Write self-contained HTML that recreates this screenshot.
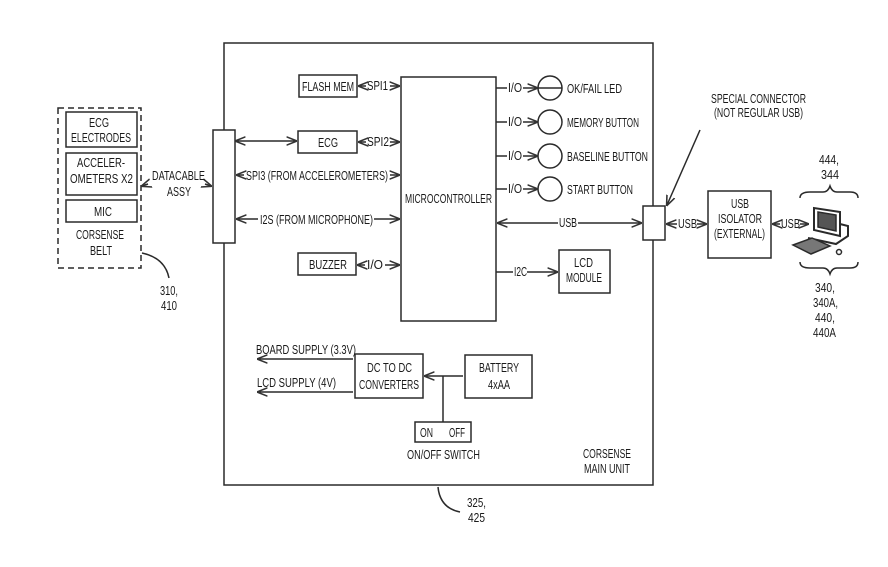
<!DOCTYPE html>
<html><head><meta charset="utf-8"><style>
html,body{margin:0;padding:0;background:#fff}
svg{display:block}
text{font-family:"Liberation Sans",sans-serif;font-size:12.5px;fill:#1a1a1a}
</style></head><body>
<svg width="888" height="567" viewBox="0 0 888 567" xmlns="http://www.w3.org/2000/svg">
<defs>
<marker id="a" viewBox="0 0 10 10" refX="9" refY="5" markerWidth="7" markerHeight="7" orient="auto-start-reverse"><path d="M0,1 L10,5 L0,9" fill="none" stroke="#333" stroke-width="1.5"/></marker>
</defs>
<g stroke="#2a2a2a" stroke-width="1.5" fill="none">
<rect x="224" y="43" width="429" height="442"/>
<rect x="58" y="108" width="83" height="160" stroke-dasharray="6,4"/>
<rect x="66" y="112" width="71" height="35"/>
<rect x="66" y="153" width="71" height="42"/>
<rect x="66" y="200" width="71" height="22"/>
<path d="M142 253 Q165 258 169 278"/>
<rect x="213" y="130" width="22" height="113" fill="#fff"/>
<rect x="299" y="75" width="58" height="22"/>
<rect x="298" y="131" width="59" height="22"/>
<rect x="298" y="253" width="58" height="22"/>
<rect x="401" y="77" width="95" height="244"/>
<rect x="559" y="250" width="51" height="43"/>
<circle cx="550" cy="88" r="12"/><line x1="538" y1="88" x2="562" y2="88"/>
<circle cx="550" cy="122" r="12"/>
<circle cx="550" cy="156" r="12"/>
<circle cx="550" cy="189" r="12"/>
<rect x="643" y="206" width="22" height="34" fill="#fff"/>
<rect x="708" y="191" width="63" height="67"/>
<rect x="355" y="354" width="68" height="44"/>
<rect x="465" y="355" width="67" height="43"/>
<rect x="415" y="422" width="56" height="20"/>
<line x1="236" y1="141" x2="296" y2="141" marker-start="url(#a)" marker-end="url(#a)"/>
<line x1="359" y1="86" x2="366" y2="86" marker-start="url(#a)"/><line x1="390" y1="86" x2="399" y2="86" marker-end="url(#a)"/>
<line x1="359" y1="142" x2="366" y2="142" marker-start="url(#a)"/><line x1="390" y1="142" x2="399" y2="142" marker-end="url(#a)"/>
<line x1="237" y1="175" x2="244" y2="175" marker-start="url(#a)"/><line x1="390" y1="175" x2="399" y2="175" marker-end="url(#a)"/>
<line x1="237" y1="219" x2="258" y2="219" marker-start="url(#a)"/><line x1="374" y1="219" x2="399" y2="219" marker-end="url(#a)"/>
<line x1="358" y1="265" x2="365" y2="265" marker-start="url(#a)"/><line x1="385" y1="265" x2="399" y2="265" marker-end="url(#a)"/>
<line x1="142" y1="186" x2="148" y2="184" marker-start="url(#a)"/><line x1="205" y1="184" x2="211" y2="186" marker-end="url(#a)"/>
<line x1="496" y1="88" x2="507" y2="88"/><line x1="523" y1="88" x2="537" y2="88" marker-end="url(#a)"/>
<line x1="496" y1="122" x2="507" y2="122"/><line x1="523" y1="122" x2="537" y2="122" marker-end="url(#a)"/>
<line x1="496" y1="156" x2="507" y2="156"/><line x1="523" y1="156" x2="537" y2="156" marker-end="url(#a)"/>
<line x1="496" y1="189" x2="507" y2="189"/><line x1="523" y1="189" x2="537" y2="189" marker-end="url(#a)"/>
<line x1="498" y1="223" x2="558" y2="223" marker-start="url(#a)"/><line x1="578" y1="223" x2="641" y2="223" marker-end="url(#a)"/>
<line x1="496" y1="272" x2="513" y2="272"/><line x1="527" y1="272" x2="557" y2="272" marker-end="url(#a)"/>
<line x1="667" y1="224" x2="677" y2="224" marker-start="url(#a)"/><line x1="697" y1="224" x2="706" y2="224" marker-end="url(#a)"/>
<line x1="773" y1="224" x2="780" y2="224" marker-start="url(#a)"/><line x1="800" y1="224" x2="808" y2="224" marker-end="url(#a)"/>
<line x1="700" y1="130" x2="667" y2="205" marker-end="url(#a)"/>
<line x1="353" y1="359" x2="258" y2="359" marker-end="url(#a)"/>
<line x1="353" y1="392" x2="258" y2="392" marker-end="url(#a)"/>
<line x1="463" y1="376" x2="425" y2="376" marker-end="url(#a)"/>
<line x1="443" y1="376" x2="443" y2="422"/>
<path d="M438 487 Q440 508 460 512"/>
<path d="M800 198 Q800 192 810 192 L823 192 Q828 192 830 186 Q832 192 837 192 L850 192 Q858 192 858 198"/>
<path d="M800 262 Q800 268 810 268 L823 268 Q828 268 830 274 Q832 268 837 268 L850 268 Q858 268 858 262"/>
<path d="M814 208 L814 230 L840 236 L840 212 Z" fill="#fff" stroke-width="2"/>
<path d="M818 212 L818 227 L836 231 L836 215 Z" fill="#555"/>
<path d="M808 238 L836 244 L848 236 L848 226 L840 224" stroke-width="2"/>
<path d="M793 245 L812 238 L830 246 L811 254 Z" fill="#777"/>
<circle cx="839" cy="252" r="2.5"/>
</g>
<g>
<text x="302" y="91" textLength="52" lengthAdjust="spacingAndGlyphs">FLASH MEM</text>
<text x="367" y="90" textLength="21" lengthAdjust="spacingAndGlyphs" font-size="11">SPI1</text>
<text x="318" y="147" textLength="20" lengthAdjust="spacingAndGlyphs">ECG</text>
<text x="367" y="146" textLength="22" lengthAdjust="spacingAndGlyphs" font-size="11">SPI2</text>
<text x="246" y="180" textLength="142" lengthAdjust="spacingAndGlyphs">SPI3 (FROM ACCELEROMETERS)</text>
<text x="260" y="224" textLength="113" lengthAdjust="spacingAndGlyphs">I2S (FROM MICROPHONE)</text>
<text x="309" y="269" textLength="38" lengthAdjust="spacingAndGlyphs">BUZZER</text>
<text x="367" y="269" textLength="16" lengthAdjust="spacingAndGlyphs" font-size="11">I/O</text>
<text x="405" y="203" textLength="87" lengthAdjust="spacingAndGlyphs">MICROCONTROLLER</text>
<text x="508" y="92" textLength="14" lengthAdjust="spacingAndGlyphs" font-size="11">I/O</text>
<text x="508" y="126" textLength="14" lengthAdjust="spacingAndGlyphs" font-size="11">I/O</text>
<text x="508" y="160" textLength="14" lengthAdjust="spacingAndGlyphs" font-size="11">I/O</text>
<text x="508" y="193" textLength="14" lengthAdjust="spacingAndGlyphs" font-size="11">I/O</text>
<text x="567" y="93" textLength="55" lengthAdjust="spacingAndGlyphs">OK/FAIL LED</text>
<text x="567" y="127" textLength="72" lengthAdjust="spacingAndGlyphs">MEMORY BUTTON</text>
<text x="567" y="161" textLength="81" lengthAdjust="spacingAndGlyphs">BASELINE BUTTON</text>
<text x="567" y="194" textLength="66" lengthAdjust="spacingAndGlyphs">START BUTTON</text>
<text x="559" y="227" textLength="18" lengthAdjust="spacingAndGlyphs" font-size="11">USB</text>
<text x="514" y="276" textLength="13" lengthAdjust="spacingAndGlyphs" font-size="11">I2C</text>
<text x="574" y="267" textLength="19" lengthAdjust="spacingAndGlyphs">LCD</text>
<text x="566" y="282" textLength="36" lengthAdjust="spacingAndGlyphs">MODULE</text>
<text x="711" y="103" textLength="95" lengthAdjust="spacingAndGlyphs">SPECIAL CONNECTOR</text>
<text x="714" y="117" textLength="89" lengthAdjust="spacingAndGlyphs">(NOT REGULAR USB)</text>
<text x="678" y="228" textLength="19" lengthAdjust="spacingAndGlyphs" font-size="11">USB</text>
<text x="731" y="208" textLength="18" lengthAdjust="spacingAndGlyphs">USB</text>
<text x="718" y="223" textLength="44" lengthAdjust="spacingAndGlyphs">ISOLATOR</text>
<text x="714" y="238" textLength="51" lengthAdjust="spacingAndGlyphs">(EXTERNAL)</text>
<text x="781" y="228" textLength="19" lengthAdjust="spacingAndGlyphs" font-size="11">USB</text>
<text x="819" y="164" textLength="20" lengthAdjust="spacingAndGlyphs">444,</text>
<text x="821" y="179" textLength="18" lengthAdjust="spacingAndGlyphs">344</text>
<text x="815" y="292" textLength="20" lengthAdjust="spacingAndGlyphs">340,</text>
<text x="813" y="307" textLength="25" lengthAdjust="spacingAndGlyphs">340A,</text>
<text x="815" y="322" textLength="20" lengthAdjust="spacingAndGlyphs">440,</text>
<text x="813" y="337" textLength="23" lengthAdjust="spacingAndGlyphs">440A</text>
<text x="89" y="127" textLength="20" lengthAdjust="spacingAndGlyphs">ECG</text>
<text x="71" y="142" textLength="60" lengthAdjust="spacingAndGlyphs">ELECTRODES</text>
<text x="77" y="167" textLength="48" lengthAdjust="spacingAndGlyphs">ACCELER-</text>
<text x="70" y="183" textLength="63" lengthAdjust="spacingAndGlyphs">OMETERS X2</text>
<text x="94" y="216" textLength="18" lengthAdjust="spacingAndGlyphs">MIC</text>
<text x="76" y="239" textLength="48" lengthAdjust="spacingAndGlyphs">CORSENSE</text>
<text x="90" y="255" textLength="22" lengthAdjust="spacingAndGlyphs">BELT</text>
<text x="152" y="180" textLength="53" lengthAdjust="spacingAndGlyphs">DATACABLE</text>
<text x="167" y="196" textLength="24" lengthAdjust="spacingAndGlyphs">ASSY</text>
<text x="160" y="295" textLength="18" lengthAdjust="spacingAndGlyphs">310,</text>
<text x="161" y="310" textLength="16" lengthAdjust="spacingAndGlyphs">410</text>
<text x="256" y="354" textLength="100" lengthAdjust="spacingAndGlyphs">BOARD SUPPLY (3.3V)</text>
<text x="257" y="387" textLength="79" lengthAdjust="spacingAndGlyphs">LCD SUPPLY (4V)</text>
<text x="367" y="372" textLength="45" lengthAdjust="spacingAndGlyphs">DC TO DC</text>
<text x="359" y="389" textLength="60" lengthAdjust="spacingAndGlyphs">CONVERTERS</text>
<text x="479" y="372" textLength="40" lengthAdjust="spacingAndGlyphs">BATTERY</text>
<text x="488" y="389" textLength="22" lengthAdjust="spacingAndGlyphs">4xAA</text>
<text x="420" y="437" textLength="13" lengthAdjust="spacingAndGlyphs">ON</text>
<text x="449" y="437" textLength="16" lengthAdjust="spacingAndGlyphs">OFF</text>
<text x="407" y="459" textLength="73" lengthAdjust="spacingAndGlyphs">ON/OFF SWITCH</text>
<text x="583" y="458" textLength="48" lengthAdjust="spacingAndGlyphs">CORSENSE</text>
<text x="584" y="473" textLength="46" lengthAdjust="spacingAndGlyphs">MAIN UNIT</text>
<text x="467" y="507" textLength="19" lengthAdjust="spacingAndGlyphs">325,</text>
<text x="468" y="522" textLength="17" lengthAdjust="spacingAndGlyphs">425</text>
</g>
</svg>
</body></html>
